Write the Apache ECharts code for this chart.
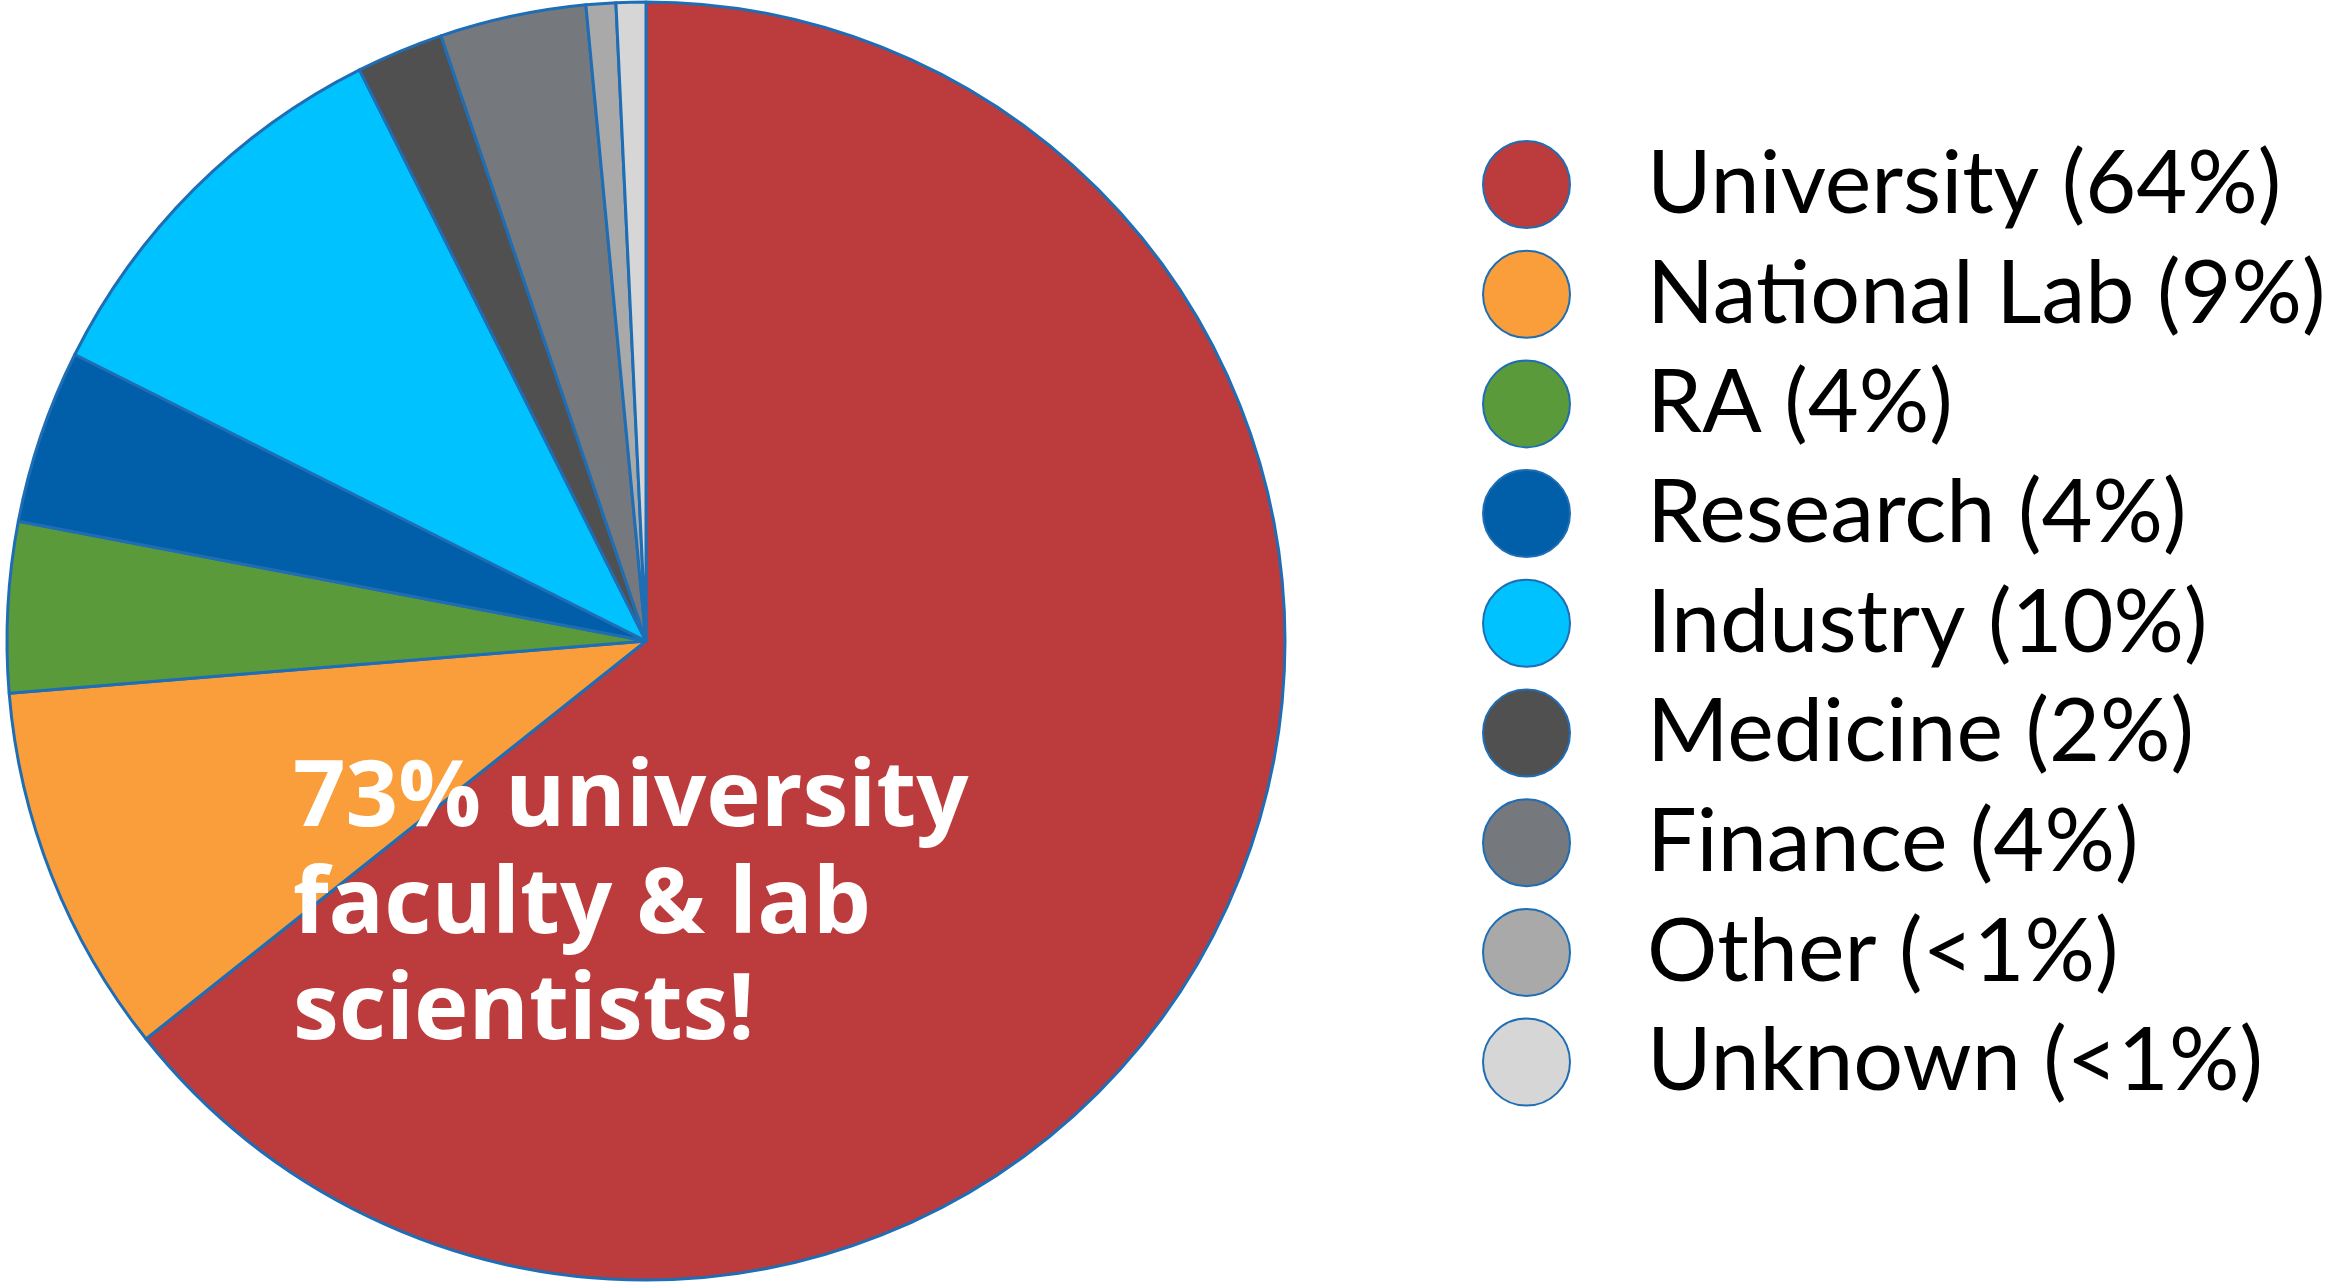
<!DOCTYPE html>
<html>
<head>
<meta charset="utf-8">
<script src="https://cdn.jsdelivr.net/npm/echarts@6/dist/echarts.min.js"></script>
<style>
  html, body { margin: 0; padding: 0; background: #ffffff; }
  #chart { width: 2339px; height: 1284px; }
</style>
</head>
<body>
<div id="chart"></div>
<script>
// Career destinations, share of respondents (%)
const categories = ['University', 'National Lab', 'RA', 'Research', 'Industry', 'Medicine', 'Finance', 'Other', 'Unknown'];
const shares = [64.3, 9.4, 4.3, 4.4, 10.2, 2.2, 3.7, 0.75, 0.75];
const legendLabels = ['64%', '9%', '4%', '4%', '10%', '2%', '4%', '<1%', '<1%'];
const sliceColors = ['#BC3B3D', '#F99E3A', '#5A9A3A', '#005FA8', '#00C2FF', '#505050', '#75787C', '#A9A9A9', '#D6D6D6'];
const calloutLines = ['73% university', 'faculty & lab', 'scientists!'];

const chart = echarts.init(document.getElementById('chart'), null, { renderer: 'canvas' });

const pieData = categories.map((name, i) => ({
  name: name,
  value: shares[i],
  itemStyle: { color: sliceColors[i] }
}));

const legendText = {};
categories.forEach((name, i) => { legendText[name] = name + ' (' + legendLabels[i] + ')'; });

chart.setOption({
  animation: false,
  backgroundColor: '#ffffff',
  legend: {
    orient: 'vertical',
    left: 1482,
    top: 140,
    padding: 0,
    icon: 'circle',
    itemWidth: 87,
    itemHeight: 87,
    itemGap: 20.7,
    selectedMode: false,
    formatter: name => legendText[name],
    textStyle: {
      fontFamily: 'Lato',
      fontSize: 88,
      color: '#000000',
      lineHeight: 87,
      padding: [0, 0, 0, 72]
    },
    data: categories
  },
  graphic: calloutLines.map((line, i) => ({
    type: 'text',
    left: 293,
    top: 754 + i * 106.5,
    z: 100,
    style: {
      text: line,
      fill: '#ffffff',
      font: 'bold 92px "Open Sans"'
    }
  })),
  series: [{
    type: 'pie',
    center: [646, 641],
    radius: [0, 639],
    startAngle: 90,
    clockwise: true,
    label: { show: false },
    labelLine: { show: false },
    emphasis: { disabled: true },
    itemStyle: { borderColor: '#1F6EB5', borderWidth: 3 },
    data: pieData
  }]
});
</script>
</body>
</html>
